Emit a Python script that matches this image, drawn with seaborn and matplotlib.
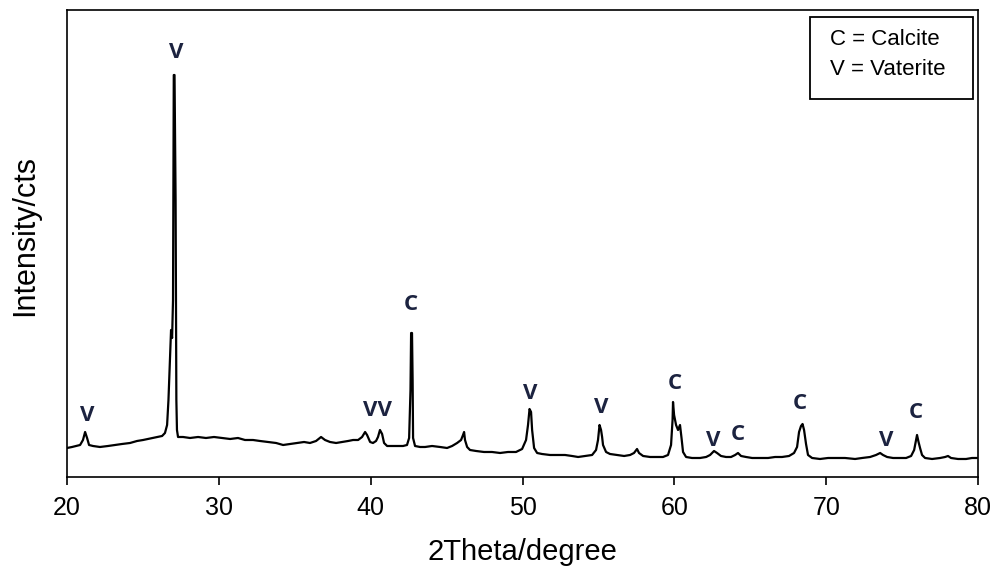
import numpy as np
import pandas as pd
import seaborn as sns
import matplotlib.pyplot as plt
from matplotlib.patches import Rectangle

# Diffraction scan: 2-theta (degrees) and counts
two_theta = [
    20.00, 20.33, 20.59, 20.86, 21.05, 21.19, 21.32, 21.45, 21.71, 22.17,
    22.70, 23.16, 23.62, 24.15, 24.61, 25.01, 25.33, 25.66, 25.99, 26.26,
    26.45, 26.59, 26.68, 26.78, 26.85, 26.92, 26.98, 27.03, 27.08, 27.15,
    27.20, 27.24, 27.31, 27.64, 28.10, 28.63, 29.15, 29.68, 30.21, 30.74,
    31.26, 31.72, 32.25, 32.71, 33.24, 33.77, 34.23, 34.69, 35.15, 35.61,
    36.00, 36.40, 36.73, 36.99, 37.32, 37.72, 38.11, 38.51, 38.84, 39.17,
    39.43, 39.63, 39.76, 39.96, 40.15, 40.35, 40.48, 40.61, 40.75, 40.88,
    41.08, 41.41, 41.80, 42.13, 42.39, 42.53, 42.62, 42.66, 42.72, 42.76,
    42.79, 42.92, 43.25, 43.58, 44.04, 44.57, 45.03, 45.36, 45.69, 45.95,
    46.08, 46.15, 46.21, 46.35, 46.54, 46.94, 47.46, 47.99, 48.52, 49.04,
    49.57, 49.97, 50.23, 50.36, 50.46, 50.56, 50.63, 50.76, 50.96, 51.28,
    51.81, 52.34, 52.80, 53.26, 53.66, 54.12, 54.58, 54.84, 54.97, 55.07,
    55.17, 55.24, 55.30, 55.50, 55.76, 56.22, 56.69, 57.08, 57.34, 57.54,
    57.67, 57.94, 58.40, 58.86, 59.25, 59.58, 59.78, 59.88, 59.91, 59.98,
    60.11, 60.24, 60.37, 60.47, 60.57, 60.77, 61.16, 61.69, 62.09, 62.35,
    62.61, 62.81, 63.07, 63.40, 63.73, 64.00, 64.19, 64.39, 64.72, 65.12,
    65.64, 66.17, 66.63, 67.09, 67.55, 67.88, 68.08, 68.21, 68.34, 68.44,
    68.54, 68.67, 68.80, 69.07, 69.59, 70.12, 70.65, 71.24, 71.90, 72.36,
    72.89, 73.28, 73.55, 73.74, 74.01, 74.40, 74.86, 75.26, 75.59, 75.79,
    75.92, 75.98, 76.08, 76.18, 76.31, 76.51, 76.97, 77.50, 77.83, 78.02,
    78.22, 78.68, 79.21, 79.60, 79.93,
]
counts = [
    290, 300, 310, 320, 370, 450, 390, 320, 310, 300,
    310, 320, 330, 340, 360, 370, 380, 390, 400, 410,
    440, 520, 770, 1170, 1470, 1390, 1770, 4020, 4020, 2770,
    770, 470, 400, 400, 390, 400, 390, 400, 390, 380,
    390, 370, 370, 360, 350, 340, 320, 330, 340, 350,
    340, 360, 400, 370, 350, 340, 350, 360, 370, 370,
    400, 450, 420, 350, 340, 360, 400, 470, 430, 340,
    310, 310, 310, 310, 320, 390, 870, 1440, 1440, 970,
    390, 310, 300, 300, 310, 300, 290, 310, 340, 370,
    420, 450, 370, 300, 270, 260, 250, 250, 240, 250,
    250, 280, 370, 520, 680, 650, 470, 290, 240, 230,
    220, 220, 220, 210, 200, 210, 220, 270, 370, 520,
    470, 400, 320, 250, 230, 220, 210, 220, 240, 280,
    240, 210, 200, 200, 200, 220, 320, 570, 750, 620,
    520, 470, 520, 390, 250, 200, 190, 190, 200, 220,
    260, 240, 210, 200, 200, 220, 240, 210, 200, 190,
    190, 190, 200, 200, 210, 240, 300, 450, 510, 530,
    470, 330, 220, 190, 180, 190, 190, 190, 180, 190,
    200, 220, 240, 220, 200, 190, 190, 190, 210, 270,
    370, 420, 350, 290, 220, 190, 180, 190, 200, 210,
    190, 180, 180, 190, 190,
]

# Phase markers above the reflections (C = calcite, V = vaterite)
marker_theta = [21.32, 27.18, 40.48, 42.66, 50.50, 55.17, 60.04, 62.55, 64.19, 68.28, 73.94, 75.92]
marker_level = [610, 4250, 660, 1720, 830, 690, 930, 360, 420, 730, 360, 640]
marker_text = ["V", "V", "VV", "C", "V", "V", "C", "V", "C", "C", "V", "C"]

legend_lines = ["C = Calcite", "V = Vaterite"]
x_ticks = [20, 30, 40, 50, 60, 70, 80]

sns.set_theme(style="ticks")
plt.rcParams['font.family'] = ['Liberation Sans', 'DejaVu Sans']

fig = plt.figure(figsize=(10.05, 5.72), dpi=100)
ax = fig.add_axes([0.0667, 0.1661, 0.9065, 0.8164])

scan = pd.DataFrame({"two_theta": two_theta, "counts": counts})
sns.lineplot(data=scan, x="two_theta", y="counts", ax=ax, color="black",
             linewidth=1.6, sort=False, estimator=None)

ax.set_xlim(20, 80)
ax.set_ylim(0, 4670)
ax.set_yticks([])
ax.set_xticks(x_ticks)
ax.set_xticklabels([str(t) for t in x_ticks],
                   family=['Liberation Sans Narrow', 'Liberation Sans'], fontsize=18,
                   color='black')
ax.tick_params(axis='x', direction='out', length=6, width=1.2, color='black', pad=8)
for sp in ax.spines.values():
    sp.set_color('black')
    sp.set_linewidth(1.2)

ax.set_xlabel("2Theta/degree", family=['Liberation Sans Narrow', 'Liberation Sans'],
              fontsize=21, color='black')
ax.xaxis.set_label_coords(0.4995, -0.13)
ax.set_ylabel("Intensity/cts", fontsize=22, color='black')
ax.yaxis.set_label_coords(-0.029, 0.518)

for t, lvl, s in zip(marker_theta, marker_level, marker_text):
    ax.text(t, lvl, s, ha='center', va='center', fontsize=16, fontweight='bold',
            family=['Open Sans', 'DejaVu Sans'], color='#1c2340')

# Key box in the upper right corner
ax.add_patch(Rectangle((0.8156, 0.809), 0.179, 0.176, transform=ax.transAxes,
                       fill=False, edgecolor='black', linewidth=1.3))
for i, line in enumerate(legend_lines):
    ax.text(0.8375, 0.936 - i * 0.064, line, transform=ax.transAxes,
            ha='left', va='center', fontsize=16, color='black')

fig.savefig("out.png", dpi=100)
